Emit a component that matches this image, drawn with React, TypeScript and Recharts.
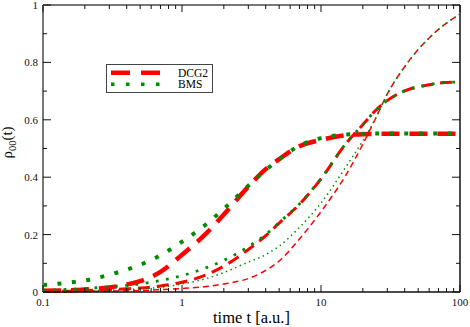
import { LineChart, Line, XAxis, YAxis, Legend, ReferenceLine } from 'recharts';

// time axis samples (a.u.)
const times = [0.1, 0.15, 0.2, 0.3, 0.4, 0.5, 0.7, 1, 1.5, 2, 3, 4, 5, 7, 10, 15, 20, 25, 30, 40, 50, 60, 70, 80, 100];

// DCG2 (red dashed), three line widths
const dcgThick = [0.004, 0.006, 0.009, 0.016, 0.026, 0.038, 0.07, 0.13, 0.205, 0.27, 0.367, 0.428, 0.463, 0.508, 0.53, 0.546, 0.55, 0.551, 0.551, 0.551, 0.551, 0.551, 0.551, 0.551, 0.551];
const dcgMedium = [0.002, 0.003, 0.005, 0.008, 0.011, 0.014, 0.021, 0.034, 0.06, 0.09, 0.148, 0.196, 0.24, 0.306, 0.394, 0.515, 0.583, 0.635, 0.667, 0.701, 0.715, 0.722, 0.728, 0.73, 0.732];
const dcgThin = [0.001, 0.0015, 0.002, 0.003, 0.004, 0.005, 0.008, 0.012, 0.019, 0.028, 0.047, 0.075, 0.108, 0.185, 0.28, 0.405, 0.515, 0.61, 0.69, 0.785, 0.845, 0.885, 0.915, 0.937, 0.968];

// BMS (green dotted)
const bmsThick = [0.024, 0.032, 0.04, 0.06, 0.078, 0.095, 0.128, 0.175, 0.237, 0.29, 0.37, 0.425, 0.462, 0.51, 0.536, 0.549, 0.551, 0.552, 0.552, 0.552, 0.552, 0.552, 0.552, 0.552, 0.552];
const bmsMedium = [0.006, 0.009, 0.012, 0.018, 0.023, 0.028, 0.04, 0.057, 0.085, 0.11, 0.158, 0.2, 0.242, 0.307, 0.395, 0.515, 0.583, 0.635, 0.667, 0.701, 0.715, 0.722, 0.728, 0.73, 0.732];
const bmsThin = [0.002, 0.003, 0.004, 0.006, 0.008, 0.011, 0.016, 0.028, 0.047, 0.068, 0.104, 0.13, 0.16, 0.225, 0.31, 0.434, 0.527, 0.61, 0.69, 0.785, 0.845, 0.885, 0.915, 0.937, 0.968];

const xTicks = [0.1, 0.2, 0.3, 0.4, 0.5, 0.6, 0.7, 0.8, 0.9, 1, 2, 3, 4, 5, 6, 7, 8, 9, 10, 20, 30, 40, 50, 60, 70, 80, 90, 100];
const xMajor = [0.1, 1, 10, 100];
const yTicks = [0, 0.1, 0.2, 0.3, 0.4, 0.5, 0.6, 0.7, 0.8, 0.9, 1];
const yMajor = [0, 0.2, 0.4, 0.6, 0.8, 1];

const data = times.map((t, i) => ({
  t,
  dcg1: dcgThick[i],
  dcg2: dcgMedium[i],
  dcg3: dcgThin[i],
  bms1: bmsThick[i],
  bms2: bmsMedium[i],
  bms3: bmsThin[i],
}));

const W = 470;
const H = 327;
const M = { top: 5, right: 10, bottom: 0, left: 0 };
const Y_W = 43;
const X_H = 35;
const PLOT_W = W - M.left - M.right - Y_W;
const PLOT_H = H - M.top - M.bottom - X_H;

const RED = '#ff0000';
const GREEN = '#008b00';
const FONT = '"Liberation Serif", "DejaVu Serif", serif';

const XTick = ({ x, y, payload }: any) => {
  const v = payload.value;
  const major = xMajor.includes(v);
  const len = major ? 7 : 4;
  return (
    <g>
      <line x1={x} x2={x} y1={y} y2={y - len} stroke="#111" />
      <line x1={x} x2={x} y1={y - PLOT_H} y2={y - PLOT_H + len} stroke="#111" />
      {major && (
        <text x={x} y={y + 14} textAnchor="middle" fontSize={11} fontFamily={FONT} fill="#111">
          {v}
        </text>
      )}
    </g>
  );
};

const YTick = ({ x, y, payload }: any) => {
  const v = payload.value;
  const major = yMajor.includes(v);
  const len = major ? 8 : 4;
  return (
    <g>
      <line x1={x} x2={x + len} y1={y} y2={y} stroke="#111" />
      <line x1={x + PLOT_W - len} x2={x + PLOT_W} y1={y} y2={y} stroke="#111" />
      {major && (
        <text x={x - 5} y={y + 4} textAnchor="end" fontSize={11} fontFamily={FONT} fill="#111">
          {v}
        </text>
      )}
    </g>
  );
};

const XLabel = ({ viewBox }: any) => (
  <text x={viewBox.x + viewBox.width / 2} y={viewBox.y + 31} textAnchor="middle" fontSize={16.5} fontFamily={FONT} fill="#000">
    time t [a.u.]
  </text>
);

const YLabel = ({ viewBox }: any) => {
  const cx = 12;
  const cy = viewBox.y + viewBox.height / 2 - 6;
  return (
    <text x={cx} y={cy} transform={`rotate(-90, ${cx}, ${cy})`} textAnchor="middle" fontSize={15} fontFamily={FONT} fill="#000">
      ρ<tspan dy={4} fontSize={10.5}>00</tspan>
      <tspan dy={-4}>(t)</tspan>
    </text>
  );
};

const LegendBox = () => (
  <div style={{ width: 107, height: 29, border: '1px solid #444', background: '#fff', boxSizing: 'border-box' }}>
    <svg width={105} height={27} style={{ display: 'block' }}>
      <line x1={4} x2={54} y1={7.7} y2={7.7} stroke={RED} strokeWidth={4.5} strokeDasharray="19 11" />
      <line x1={4} x2={54} y1={19.3} y2={19.3} stroke={GREEN} strokeWidth={3.5} strokeDasharray="3.5 11.5" />
      <text x={71} y={12} fontSize={11.5} fontFamily={FONT} fill="#000">DCG2</text>
      <text x={71} y={23} fontSize={11.5} fontFamily={FONT} fill="#000">BMS</text>
    </svg>
  </div>
);

export default function App() {
  return (
    <div style={{ position: 'absolute', left: 0, top: 0, background: '#fff' }}>
      <LineChart width={W} height={H} data={data} margin={M}>
        <XAxis
          dataKey="t"
          type="number"
          scale="log"
          domain={[0.1, 100]}
          allowDataOverflow
          ticks={xTicks}
          interval={0}
          height={X_H}
          tickSize={0}
          tickMargin={0}
          tick={<XTick />}
          axisLine={{ stroke: '#111', strokeWidth: 1.5 }}
          label={{ content: XLabel }}
        />
        <YAxis
          type="number"
          domain={[0, 1]}
          ticks={yTicks}
          interval={0}
          width={Y_W}
          tickSize={0}
          tickMargin={0}
          tick={<YTick />}
          axisLine={{ stroke: '#777', strokeWidth: 2 }}
          label={{ content: YLabel }}
        />
        <ReferenceLine y={1} stroke="#777" strokeWidth={2} />
        <ReferenceLine x={100} stroke="#111" strokeWidth={1.5} />
        <Legend
          layout="vertical"
          align="center"
          verticalAlign="middle"
          wrapperStyle={{ left: 106, top: 64, width: 107, height: 29 }}
          content={<LegendBox />}
        />
        <Line type="monotone" dataKey="dcg1" stroke={RED} strokeWidth={4.5} strokeDasharray="18 10" dot={false} isAnimationActive={false} />
        <Line type="monotone" dataKey="dcg2" stroke={RED} strokeWidth={3} strokeDasharray="12 7" dot={false} isAnimationActive={false} />
        <Line type="monotone" dataKey="dcg3" stroke={RED} strokeWidth={1.5} strokeDasharray="6 4" dot={false} isAnimationActive={false} />
        <Line type="monotone" dataKey="bms1" stroke={GREEN} strokeWidth={4} strokeDasharray="4 10.5" dot={false} isAnimationActive={false} />
        <Line type="monotone" dataKey="bms2" stroke={GREEN} strokeWidth={2.8} strokeDasharray="2.8 7.5" dot={false} isAnimationActive={false} />
        <Line type="monotone" dataKey="bms3" stroke={GREEN} strokeWidth={1.5} strokeDasharray="1.5 3.5" dot={false} isAnimationActive={false} />
      </LineChart>
    </div>
  );
}
